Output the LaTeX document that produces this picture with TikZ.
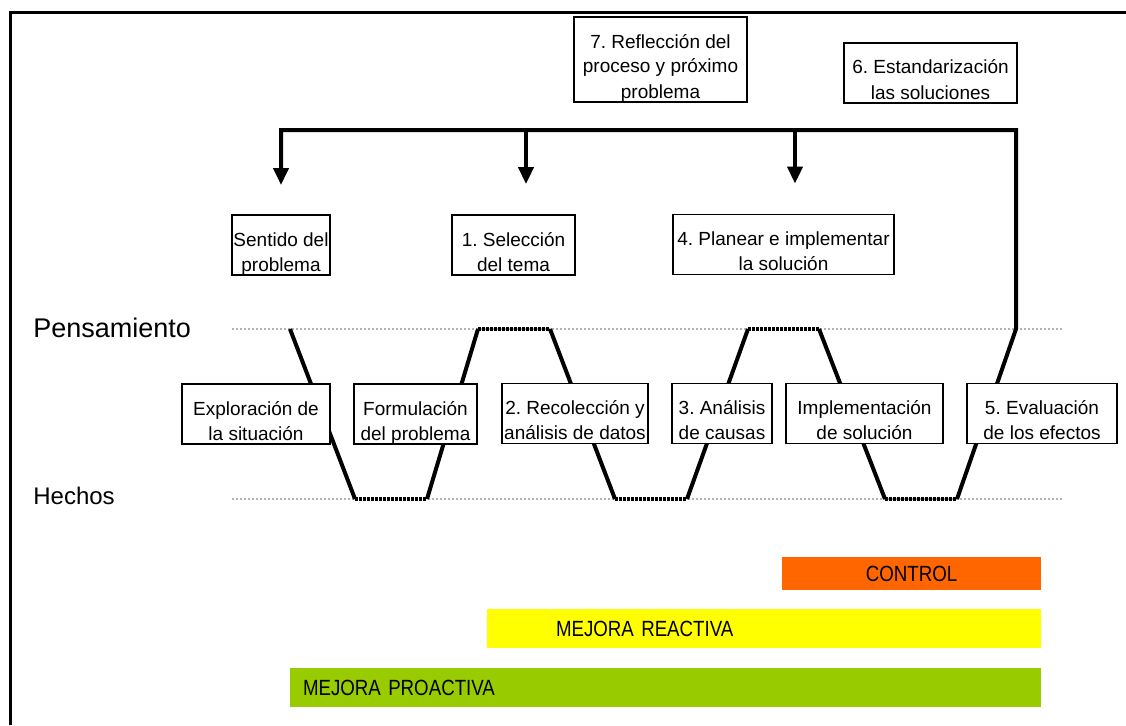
\documentclass[tikz,border=0pt]{standalone}
\usepackage{fontspec}
\setmainfont{Liberation Sans}
\newfontfamily\angosta[FakeStretch=0.85]{Liberation Sans}
\usetikzlibrary{arrows.meta}
\frenchspacing

\newcommand\cajafont{\fontsize{19}{25}\selectfont}
\newcommand\tope{\rule{0pt}{31pt}}
\newcommand\fondo{\rule[-4pt]{0pt}{4pt}}

\definecolor{naranja}{HTML}{FF6600}
\definecolor{amarillo}{HTML}{FFFF00}
\definecolor{verde}{HTML}{99CC00}

\tikzset{every picture/.style={line width=0.75pt},
	caja/.style={draw, fill=white, line width=1.8pt, inner sep=0pt, align=center, font=\cajafont},
	guia/.style={gray!60, line width=2pt, dash pattern=on 2pt off 2pt},
	linea/.style={line width=4pt},
	plano/.style={line width=4pt, dash pattern=on 3pt off 1pt},
	barra/.style={inner ysep=0pt, font=\angosta\fontsize{22}{26}\selectfont}
}

\begin{document}
\begin{tikzpicture}[x=1pt,y=-1pt,>={Triangle[width=15pt,length=17pt]}]
	\useasboundingbox (0,0) rectangle (1126,725);
	%Marco
	\draw[line width=3pt] (10,725) -- (10,13) -- (1126,13);
	%Lineas guia
	\draw[guia] (232,329) -- (1063,329);
	\draw[guia] (232,499) -- (1063,499);
	\node[anchor=base west, inner sep=0pt, font=\fontsize{27}{32}\selectfont] (pens) at (33,337) {Pensamiento};
	\node[anchor=base west, inner sep=0pt, font=\fontsize{24}{29}\selectfont] (hech) at (33,504) {Hechos};
	%Onda
	\draw[linea] (290,329) -- (355,499);
	\draw[plano] (355,499) -- (427,499);
	\draw[linea] (427,499) -- (478,329);
	\draw[plano] (478,329) -- (550,329);
	\draw[linea] (550,329) -- (615,499);
	\draw[plano] (615,499) -- (687,499);
	\draw[linea] (687,499) -- (748,329);
	\draw[plano] (748,329) -- (819,329);
	\draw[linea] (819,329) -- (885,499);
	\draw[plano] (885,499) -- (957,499);
	%Retorno
	\draw[linea,->] (957,499) -- (1016,329) -- (1016,130) -- (281,130) -- (281,185);
	%Cajas arriba
	\node[caja, minimum width=173pt] (refl) at (660.5,59.5) {\tope 7. Reflección del\\proceso y próximo\\problema\fondo};
	\node[caja, minimum width=173pt] (estan) at (930.5,73) {\tope 6. Estandarización\\las soluciones\fondo};
	\node[caja, minimum width=98pt] (sentido) at (281,245) {\tope Sentido del\\problema\fondo};
	\node[caja, minimum width=123pt] (sel) at (513.5,245) {\tope 1. Selección\\del tema\fondo};
	\node[caja, minimum width=221pt] (plan) at (783.5,244.5) {\tope 4. Planear e implementar\\la solución\fondo};
	%Flechas
	\coordinate (f2) at (526,130);
	\coordinate (f3) at (795,130);
	\draw[linea,->,shorten >=30pt] (f2) -- (f2 |- sel.north);
	\draw[linea,->,shorten >=30pt] (f3) -- (f3 |- plan.north);
	%Cajas abajo
	\node[caja, minimum width=148pt] (explo) at (256,414) {\tope Exploración de\\la situación\fondo};
	\node[caja, minimum width=123pt] (formu) at (415.5,414) {\tope Formulación\\del problema\fondo};
	\node[caja, minimum width=146pt] (recol) at (575,413.5) {\tope 2. Recolección y\\análisis de datos\fondo};
	\node[caja, minimum width=100pt] (causas) at (722,413.5) {\tope 3. Análisis\\de causas\fondo};
	\node[caja, minimum width=157pt] (impl) at (864.5,413.5) {\tope Implementación\\de solución\fondo};
	\node[caja, minimum width=150pt] (eval) at (1042,413.5) {\tope 5. Evaluación\\de los efectos\fondo};
	%Barras
	\node[barra, fill=naranja, minimum width=259pt, minimum height=33pt] (ctrl) at (911.5,573.5) {CONTROL};
	\node[barra, fill=amarillo, text width=416pt, inner xsep=69pt, align=left, minimum height=39pt] (reac) at (764,628.5) {MEJORA REACTIVA};
	\node[barra, fill=verde, text width=725pt, inner xsep=13pt, align=left, minimum height=39pt] (proac) at (665.5,687.5) {MEJORA PROACTIVA};
\end{tikzpicture}
\end{document}
